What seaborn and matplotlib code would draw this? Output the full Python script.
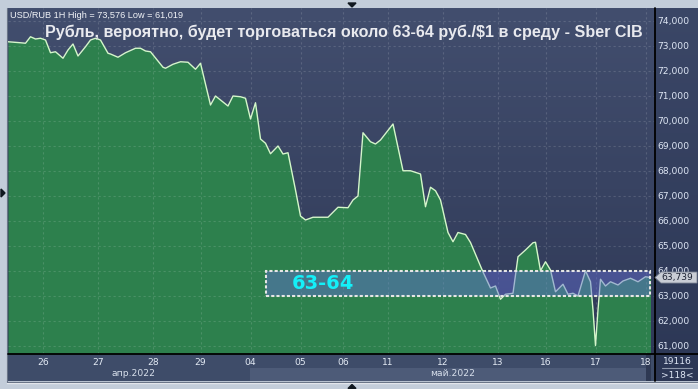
import numpy as np
import pandas as pd
import matplotlib
matplotlib.use("Agg")
import matplotlib.pyplot as plt
import seaborn as sns
from matplotlib.patches import Rectangle, Polygon
from matplotlib.lines import Line2D
from matplotlib.transforms import blended_transform_factory
from matplotlib.colors import LinearSegmentedColormap

# ---------------- data ----------------
bar = [0, 5, 7, 9, 11, 13, 15, 17, 19, 22,
       24, 26, 28, 31, 33, 35, 37, 40, 41, 44,
       47, 51, 53, 55, 57, 62, 63, 66, 69, 72,
       75, 77, 81, 83, 85, 88, 90, 93, 95, 97,
       99, 101, 103, 105, 108, 110, 112, 115, 117, 119,
       122, 128, 132, 136, 138, 140, 142, 145, 147, 149,
       154, 158, 161, 165, 167, 169, 171, 173, 176, 178,
       180, 183, 185, 190, 193, 195, 197, 199, 202, 204,
       207, 210, 211, 213, 215, 217, 219, 222, 224, 226,
       228, 231, 233, 234, 235, 236, 237, 239, 241, 244,
       246, 249, 252, 255, 257]
close = [73.17, 73.13, 73.11, 73.37, 73.28, 73.31, 73.24, 72.73, 72.77, 72.51,
         72.84, 73.08, 72.60, 72.97, 73.24, 73.31, 73.24, 72.71, 72.68, 72.55,
         72.73, 72.91, 72.91, 72.80, 72.77, 72.15, 72.11, 72.27, 72.37, 72.35,
         72.07, 72.31, 70.64, 71.00, 70.84, 70.60, 71.00, 70.97, 70.91, 70.08,
         70.73, 69.28, 69.11, 68.69, 69.00, 68.68, 68.73, 67.24, 66.20, 66.04,
         66.15, 66.15, 66.55, 66.53, 66.84, 67.00, 69.53, 69.17, 69.08, 69.24,
         69.88, 68.01, 68.01, 67.88, 66.57, 67.35, 67.21, 66.84, 65.54, 65.17,
         65.54, 65.46, 65.14, 63.96, 63.32, 63.40, 62.87, 63.07, 63.11, 64.57,
         64.84, 65.13, 65.15, 64.01, 64.37, 64.04, 63.17, 63.47, 63.07, 63.11,
         63.00, 64.01, 63.57, 62.44, 61.02, 62.44, 63.67, 63.40, 63.57, 63.44,
         63.60, 63.71, 63.57, 63.77, 63.739]

day_ticks = [14, 36, 58, 77, 97, 117, 134, 152, 174, 196, 215, 235, 255]
day_labels = ["26", "27", "28", "29", "04", "05", "06", "11", "12", "13", "16", "17", "18"]
month_labels = ["апр.2022", "май.2022"]
month_pos = [50, 178]
y_ticks = [61, 62, 63, 64, 65, 66, 67, 68, 69, 70, 71, 72, 73, 74]
band_low, band_high = 63.0, 64.0
band_start, band_end = 103.2, 256.8
band_label = "63-64"
band_label_x = 113.6
title = "Рубль, вероятно, будет торговаться около 63-64 руб./$1 в среду - Sber CIB"
header = "USD/RUB 1H High = 73,576 Low = 61,019"
vol_top, vol_bottom = "19116", ">118<"

x_min, x_max = 0, 258.8
y_min, y_max = 60.68, 74.52

# ---------------- figure ----------------
W, H = 698, 389
sns.set_theme(style="dark")
plt.rcParams['font.family'] = ['DejaVu Sans']

fig = plt.figure(figsize=(W / 100, H / 100), dpi=100, facecolor='#c3cdda')


def fx(x):
    return x / W


def fy(y):
    return 1 - y / H


def rect(x0, y0, x1, y1):
    return [fx(x0), fy(y1), fx(x1) - fx(x0), fy(y0) - fy(y1)]


def grad_axes(r, top, bottom, z):
    a = fig.add_axes(r, zorder=z)
    a.set_axis_off()
    cmap = LinearSegmentedColormap.from_list('g', [bottom, top])
    a.imshow(np.linspace(0, 1, 256).reshape(-1, 1), origin='lower', aspect='auto',
             cmap=cmap, extent=[0, 1, 0, 1])
    a.set_xlim(0, 1)
    a.set_ylim(0, 1)
    return a


# frame border (white outer line + dark inner line)
fig.add_artist(Line2D([fx(6.5), fx(6.5)], [fy(8), fy(382.5)], color='#f4f6fa', lw=0.9, zorder=0))
fig.add_artist(Line2D([fx(6.5), fx(698)], [fy(382.5), fy(382.5)], color='#f4f6fa', lw=0.9, zorder=0))
fig.add_artist(Line2D([fx(7.5), fx(7.5)], [fy(8), fy(381.5)], color='#6a7588', lw=0.9, zorder=0))
fig.add_artist(Line2D([fx(7.5), fx(698)], [fy(381.5), fy(381.5)], color='#6a7588', lw=0.9, zorder=0))

bg_main = grad_axes(rect(8, 8, 655, 354), '#424e6e', '#2f3957', 0)
bg_right = grad_axes(rect(655, 8, 698, 381), '#3b4767', '#2c3755', 1)
bot = fig.add_axes(rect(8, 354, 655, 381), zorder=1)
bot.set_axis_off()
bot.set_xlim(8, 655)
bot.set_ylim(381, 354)
bot.add_patch(Rectangle((8, 354), 647, 27, facecolor='#3e4c69', lw=0))
bot.add_patch(Rectangle((250, 368), 398, 13, facecolor='#4d5b78', lw=0))
bot.add_patch(Rectangle((646, 354), 5, 27, facecolor='#2e3953', lw=0))

ax = fig.add_axes(rect(8, 8, 655, 354), zorder=5)
ax.patch.set_visible(False)

ax.fill_between(bar, y_min, close, color='#2d804d', lw=0, zorder=1)

for v in y_ticks:
    ax.axhline(v, color=(1, 1, 1, 0.14), lw=0.8, ls=(0, (2, 2.5)), zorder=2)
for t in day_ticks:
    ax.axvline(t, color=(1, 1, 1, 0.14), lw=0.8, ls=(0, (2, 2.5)), zorder=2)

df = pd.DataFrame({"bar": bar, "close": close})
sns.lineplot(data=df, x="bar", y="close", ax=ax, color='#d4f7ca', lw=1.0,
             estimator=None, sort=False, zorder=3)

ax.add_patch(Rectangle((band_start, band_low), band_end - band_start, band_high - band_low,
                       facecolor='#646ed7', alpha=0.45, lw=0, zorder=4))
ax.add_patch(Rectangle((band_start, band_low), band_end - band_start, band_high - band_low,
                       fill=False, edgecolor='#e6e6e6', lw=1.5, ls=(0, (1.5, 1.0)), zorder=5))
ax.text(band_label_x, (band_low + band_high) / 2, band_label, color='#14f0f8', fontsize=14,
        fontweight='bold', ha='left', va='center', zorder=6)

ax.set_xlim(x_min, x_max)
ax.set_ylim(y_min, y_max)
ax.set_xlabel("")
ax.set_ylabel("")
ax.yaxis.tick_right()
ax.set_yticks(y_ticks)
ax.set_yticklabels([f"{v:.3f}".replace('.', ',') for v in y_ticks])
ax.set_xticks(day_ticks)
ax.set_xticklabels(day_labels)
ax.tick_params(axis='y', length=0, pad=1.5, labelsize=6.6, labelcolor='#dfe7f5')
ax.tick_params(axis='x', length=0, pad=3, labelsize=6.6, labelcolor='#e4ebf5')
for s in ax.spines.values():
    s.set_visible(False)
ax.grid(False)

# month labels
btr = blended_transform_factory(ax.transData, fig.transFigure)
for lab, pos in zip(month_labels, month_pos):
    ax.text(pos, fy(374), lab, transform=btr, ha='center', va='center', fontsize=6.6,
            color='#d8e0ec', clip_on=False)

# separator lines
fig.add_artist(Line2D([fx(8), fx(698)], [fy(354), fy(354)], color='black', lw=1.3, zorder=20))
fig.add_artist(Line2D([fx(655), fx(655)], [fy(8), fy(381)], color='black', lw=1.3, zorder=20))

# volume text bottom-right
fig.text(fx(677), fy(361), vol_top, ha='center', va='center', fontsize=6.6, color='#dfe7f5', zorder=20)
fig.text(fx(677), fy(375), vol_bottom, ha='center', va='center', fontsize=6.6, color='#dfe7f5', zorder=20)
fig.add_artist(Line2D([fx(662), fx(692)], [fy(368), fy(368)], color='#8d97ab', lw=0.8, zorder=20))

# arrows on frame
fig.add_artist(Polygon([[fx(348), fy(3)], [fx(356), fy(3)], [fx(352), fy(7)]], closed=True,
                       transform=fig.transFigure, color='#101820', zorder=20))
fig.add_artist(Polygon([[fx(348), fy(388.5)], [fx(356), fy(388.5)], [fx(352), fy(384.5)]], closed=True,
                       transform=fig.transFigure, color='#101820', zorder=20))
fig.add_artist(Polygon([[fx(1), fy(189)], [fx(1), fy(197)], [fx(5), fy(193)]], closed=True,
                       transform=fig.transFigure, color='#101820', zorder=20))

# texts at top
t_head = fig.text(fx(10), fy(15), header, ha='left', va='center', fontsize=7,
                  color='#f2f4f8', family=['Liberation Sans'], zorder=20)
t_title = fig.text(fx(45), fy(37), title, ha='left', va='baseline', fontsize=11,
                   color='#e8e9ee', fontweight='bold', family=['Liberation Sans'], zorder=20)

renderer = fig.canvas.get_renderer()
for t, target in [(t_head, 172), (t_title, 596)]:
    bb = t.get_window_extent(renderer)
    t.set_fontsize(t.get_fontsize() * target / bb.width)

# last price marker
py = ax.transData.transform((0, close[-1]))[1]
py_img = H - py
fig.add_artist(Polygon([[fx(655), fy(py_img)], [fx(661), fy(py_img - 5.5)], [fx(697), fy(py_img - 5.5)],
                        [fx(697), fy(py_img + 5.5)], [fx(661), fy(py_img + 5.5)]], closed=True,
                       transform=fig.transFigure, facecolor='#c9cdd5', edgecolor='#7c8494', lw=0.6, zorder=21))
fig.text(fx(661), fy(py_img), f"{close[-1]:.3f}".replace('.', ','), ha='left', va='center',
         fontsize=6.6, color='#1c2233', zorder=22)

fig.savefig("out.png", dpi=100, facecolor=fig.get_facecolor())
